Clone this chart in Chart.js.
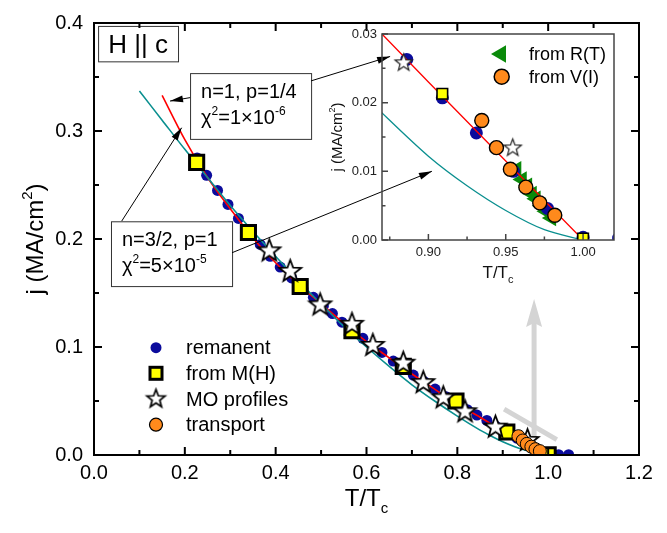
<!DOCTYPE html>
<html>
<head>
<meta charset="utf-8">
<script src="https://cdn.jsdelivr.net/npm/chart.js@4.4.0/dist/chart.umd.min.js"></script>
<style>
    html, body { margin: 0; padding: 0; background: #fff; }
    #wrap { position: relative; width: 667px; height: 533px; }
    #mainChart { position: absolute; left: 0; top: 0; }
    #insetChart { position: absolute; left: 320px; top: 20px; }
</style>
</head>
<body>
<div id="wrap">
    <canvas id="mainChart" width="667" height="533" style="width:667px;height:533px"></canvas>
    <canvas id="insetChart" width="310" height="275" style="width:310px;height:275px"></canvas>
</div>
<script>
// ===== DATA =====
const remanentT = [0.227, 0.248, 0.272, 0.295, 0.318, 0.342, 0.366, 0.388, 0.410, 0.435, 0.460, 0.483, 0.505, 0.525, 0.546, 0.570, 0.592, 0.613, 0.634, 0.659, 0.681, 0.703, 0.727, 0.751, 0.775, 0.800, 0.822, 0.843, 0.865, 0.886, 0.909, 0.931, 0.955, 0.977, 1.000, 1.023, 1.045];
const remanentJ = [0.275, 0.259, 0.245, 0.232, 0.219, 0.206, 0.195, 0.184, 0.174, 0.164, 0.154, 0.146, 0.138, 0.131, 0.123, 0.115, 0.108, 0.101, 0.095, 0.087, 0.080, 0.074, 0.068, 0.061, 0.054, 0.047, 0.042, 0.037, 0.032, 0.0263, 0.0207, 0.0156, 0.0100, 0.0046, 0.0004, 0.0003, 0.0003];

const fromMHT = [0.226, 0.340, 0.454, 0.568, 0.681, 0.797, 0.909, 1.000];
const fromMHJ = [0.271, 0.206, 0.156, 0.115, 0.082, 0.050, 0.0213, 0.0002];

const moT = [0.386, 0.432, 0.498, 0.568, 0.614, 0.681, 0.725, 0.769, 0.817, 0.884, 0.9545];
const moJ = [0.189, 0.170, 0.139, 0.121, 0.1015, 0.085, 0.067, 0.053, 0.040, 0.0258, 0.0134];

// transport = from V(I)
const transportT = [0.9345, 0.944, 0.953, 0.963, 0.972, 0.9817];
const transportJ = [0.0174, 0.01345, 0.0103, 0.0077, 0.0054, 0.0036];

const fromRTT = [0.957, 0.9605, 0.964, 0.967, 0.9695, 0.973, 0.976, 0.9795];
const fromRTJ = [0.0103, 0.0088, 0.0079, 0.0067, 0.0060, 0.0050, 0.0042, 0.0032];

// fit n=1, p=1/4 (red)
const fit1T = [0.15, 0.20, 0.25, 0.30, 0.35, 0.40, 0.45, 0.50, 0.55, 0.60, 0.65, 0.70, 0.75, 0.80, 0.85, 0.87, 0.90, 0.95, 1.00];
const fit1J = [0.333, 0.292, 0.257, 0.228, 0.201, 0.178, 0.158, 0.140, 0.122, 0.105, 0.090, 0.075, 0.061, 0.047, 0.035, 0.030, 0.023, 0.0115, 0.0];

// fit n=3/2, p=1 (teal)
const fit2T = [0.10, 0.15, 0.20, 0.25, 0.30, 0.35, 0.40, 0.45, 0.50, 0.55, 0.60, 0.65, 0.70, 0.75, 0.80, 0.85, 0.87, 0.90, 0.925, 0.95, 0.975, 1.00];
const fit2J = [0.337, 0.310, 0.283, 0.257, 0.231, 0.207, 0.184, 0.161, 0.140, 0.119, 0.100, 0.082, 0.065, 0.050, 0.036, 0.023, 0.0185, 0.0122, 0.0079, 0.0043, 0.0015, 0.0];

const mainXTicks = [0.0, 0.2, 0.4, 0.6, 0.8, 1.0, 1.2];
const mainYTicks = [0.0, 0.1, 0.2, 0.3, 0.4];
const insetXTicks = [0.90, 0.95, 1.00];
const insetYTicks = [0.00, 0.01, 0.02, 0.03];

const legendLabels = ['remanent', 'from M(H)', 'MO profiles', 'transport'];
const insetLegendLabels = ['from R(T)', 'from V(I)'];

// ===== STYLE =====
const FONT = "'Liberation Sans', Arial, Helvetica, sans-serif";
const BLUE = '#0b0b9c';
const YELLOW = '#ffff00';
const ORANGE = '#ff8a1c';
const GREEN = '#0a8a0a';
const RED = '#ff0000';
const TEAL = '#0a8f8f';

const pts = (xs, ys) => xs.map((x, i) => ({ x: x, y: ys[i] }));
const midpoints = arr => arr.slice(0, -1).map((v, i) => (v + arr[i + 1]) / 2);

function makeStar(R, lw, stroke) {
    const s = Math.ceil(2 * R + 2 * lw + 2);
    const c = document.createElement('canvas');
    c.width = s; c.height = s;
    const g = c.getContext('2d');
    g.beginPath();
    for (let i = 0; i < 10; i++) {
        const r = i % 2 ? R * 0.42 : R;
        const a = -Math.PI / 2 + i * Math.PI / 5;
        g.lineTo(s / 2 + r * Math.cos(a), s / 2 + r * Math.sin(a));
    }
    g.closePath();
    g.fillStyle = '#fff';
    g.fill();
    g.lineWidth = lw;
    g.strokeStyle = stroke;
    g.lineJoin = 'miter';
    g.stroke();
    return c;
}

const starMain = makeStar(11.5, 1.8, '#000');
const starLegend = makeStar(9.5, 1.7, '#000');
const starInset = makeStar(9, 1.2, '#222');

// draw text with super/subscripts; parts = [[text, 'n'|'sup'|'sub'], ...]
function richText(ctx, parts, x, y, size, align) {
    const small = Math.round(size * 0.62);
    let w = 0;
    parts.forEach(p => {
        ctx.font = (p[1] === 'n' ? size : small) + 'px ' + FONT;
        w += ctx.measureText(p[0]).width;
    });
    let cx = align === 'center' ? x - w / 2 : x;
    ctx.textAlign = 'left';
    ctx.textBaseline = 'alphabetic';
    parts.forEach(p => {
        ctx.font = (p[1] === 'n' ? size : small) + 'px ' + FONT;
        const dy = p[1] === 'sup' ? -size * 0.45 : (p[1] === 'sub' ? size * 0.3 : 0);
        ctx.fillText(p[0], cx, y + dy);
        cx += ctx.measureText(p[0]).width;
    });
}

function arrow(ctx, x1, y1, x2, y2, head, half) {
    ctx.beginPath();
    ctx.moveTo(x1, y1);
    ctx.lineTo(x2, y2);
    ctx.stroke();
    const a = Math.atan2(y2 - y1, x2 - x1);
    const bx = x2 - head * Math.cos(a), by = y2 - head * Math.sin(a);
    ctx.beginPath();
    ctx.moveTo(x2, y2);
    ctx.lineTo(bx + half * Math.sin(a), by - half * Math.cos(a));
    ctx.lineTo(bx - half * Math.sin(a), by + half * Math.cos(a));
    ctx.closePath();
    ctx.fill();
}

// frame with inward ticks
function frameTicks(o) {
    return {
        id: 'frameTicks',
        afterDraw(chart) {
            const { ctx, chartArea: a } = chart;
            const x = chart.scales.x, y = chart.scales.y;
            ctx.save();
            ctx.strokeStyle = o.color;
            ctx.lineWidth = o.width;
            ctx.beginPath();
            const xt = (vals, len) => vals.forEach(v => {
                const px = x.getPixelForValue(v);
                ctx.moveTo(px, a.bottom); ctx.lineTo(px, a.bottom - len);
                if (o.mirror) { ctx.moveTo(px, a.top); ctx.lineTo(px, a.top + len); }
            });
            const yt = (vals, len) => vals.forEach(v => {
                const py = y.getPixelForValue(v);
                ctx.moveTo(a.left, py); ctx.lineTo(a.left + len, py);
                if (o.mirror) { ctx.moveTo(a.right, py); ctx.lineTo(a.right - len, py); }
            });
            xt(o.xMajor, o.major); xt(o.xMinor, o.minor);
            yt(o.yMajor, o.major); yt(o.yMinor, o.minor);
            ctx.stroke();
            ctx.strokeRect(a.left, a.top, a.right - a.left, a.bottom - a.top);
            ctx.restore();
        }
    };
}

// ===== MAIN CHART DECORATION =====
const mainNotes = {
    hBox: [0.009, 0.3973, 0.185, 0.3645],
    box1: [0.2115, 0.3536, 0.478, 0.2927],
    box2: [0.0374, 0.2164, 0.304, 0.1564],
    arrows: [
        [0.2115, 0.3309, 0.1674, 0.3277],
        [0.478, 0.3464, 0.652, 0.369],
        [0.061, 0.2166, 0.193, 0.303],
        [0.304, 0.1873, 0.744, 0.2627]
    ],
    greyUp: [0.969, 0.0167, 0.969, 0.1445],
    greyDiag: [0.903, 0.0424, 1.019, 0.0143]
};

const mainBack = {
    id: 'mainBack',
    beforeDatasetsDraw(chart) {
        const ctx = chart.ctx, x = chart.scales.x, y = chart.scales.y;
        const g = mainNotes.greyUp, d = mainNotes.greyDiag;
        ctx.save();
        ctx.strokeStyle = '#d4d4d4';
        ctx.fillStyle = '#d4d4d4';
        ctx.lineWidth = 5;
        ctx.lineCap = 'butt';
        ctx.beginPath();
        ctx.moveTo(x.getPixelForValue(d[0]), y.getPixelForValue(d[1]));
        ctx.lineTo(x.getPixelForValue(d[2]), y.getPixelForValue(d[3]));
        ctx.stroke();
        const x1 = x.getPixelForValue(g[0]), y1 = y.getPixelForValue(g[1]);
        const x2 = x.getPixelForValue(g[2]), y2 = y.getPixelForValue(g[3]);
        ctx.beginPath();
        ctx.moveTo(x1, y1);
        ctx.lineTo(x2, y2 + 20);
        ctx.stroke();
        ctx.beginPath();
        ctx.moveTo(x2, y2);
        ctx.lineTo(x2 - 8, y2 + 28);
        ctx.lineTo(x2, y2 + 24);
        ctx.lineTo(x2 + 8, y2 + 28);
        ctx.closePath();
        ctx.fill();
        ctx.restore();
    },
    afterDraw(chart) {
        const ctx = chart.ctx, x = chart.scales.x, y = chart.scales.y;
        const box = b => [x.getPixelForValue(b[0]), y.getPixelForValue(b[1]), x.getPixelForValue(b[2]), y.getPixelForValue(b[3])];
        ctx.save();
        ctx.strokeStyle = '#333';
        ctx.lineWidth = 1;
        ctx.fillStyle = '#000';

        let b = box(mainNotes.hBox);
        ctx.fillStyle = '#fff';
        ctx.fillRect(b[0], b[1], b[2] - b[0], b[3] - b[1]);
        ctx.strokeRect(b[0] + 0.5, b[1] + 0.5, b[2] - b[0], b[3] - b[1]);
        ctx.fillStyle = '#000';
        richText(ctx, [['H || c', 'n']], (b[0] + b[2]) / 2, b[1] + 27, 26, 'center');

        b = box(mainNotes.box1);
        ctx.fillStyle = '#fff';
        ctx.fillRect(b[0], b[1], b[2] - b[0], b[3] - b[1]);
        ctx.strokeRect(b[0] + 0.5, b[1] + 0.5, b[2] - b[0], b[3] - b[1]);
        ctx.fillStyle = '#000';
        richText(ctx, [['n=1, p=1/4', 'n']], b[0] + 11, b[1] + 25, 20, 'left');
        richText(ctx, [['\u03c7', 'n'], ['2', 'sup'], ['=1\u00d710', 'n'], ['-6', 'sup']], b[0] + 11, b[1] + 51, 20, 'left');

        b = box(mainNotes.box2);
        ctx.fillStyle = '#fff';
        ctx.fillRect(b[0], b[1], b[2] - b[0], b[3] - b[1]);
        ctx.strokeRect(b[0] + 0.5, b[1] + 0.5, b[2] - b[0], b[3] - b[1]);
        ctx.fillStyle = '#000';
        richText(ctx, [['n=3/2, p=1', 'n']], b[0] + 11, b[1] + 25, 20, 'left');
        richText(ctx, [['\u03c7', 'n'], ['2', 'sup'], ['=5\u00d710', 'n'], ['-5', 'sup']], b[0] + 11, b[1] + 51, 20, 'left');

        ctx.strokeStyle = '#000';
        mainNotes.arrows.forEach(a => {
            arrow(ctx, x.getPixelForValue(a[0]), y.getPixelForValue(a[1]),
                x.getPixelForValue(a[2]), y.getPixelForValue(a[3]), 13, 3.5);
        });

        // legend
        const lx = 156, ly = [347.7, 373.3, 399, 424.7];
        ctx.fillStyle = BLUE;
        ctx.beginPath(); ctx.arc(lx, ly[0], 5.5, 0, Math.PI * 2); ctx.fill();
        ctx.fillStyle = YELLOW; ctx.strokeStyle = '#000'; ctx.lineWidth = 3;
        ctx.fillRect(lx - 6, ly[1] - 6, 12, 12); ctx.strokeRect(lx - 6, ly[1] - 6, 12, 12);
        ctx.drawImage(starLegend, lx - starLegend.width / 2, ly[2] - starLegend.height / 2);
        ctx.fillStyle = ORANGE; ctx.lineWidth = 1.2;
        ctx.beginPath(); ctx.arc(lx, ly[3], 6.5, 0, Math.PI * 2); ctx.fill(); ctx.stroke();
        ctx.fillStyle = '#000';
        ctx.font = '20px ' + FONT;
        ctx.textAlign = 'left';
        ctx.textBaseline = 'middle';
        legendLabels.forEach((t, i) => ctx.fillText(t, 186, ly[i] + 1));

        // axis titles
        ctx.save();
        ctx.translate(35, (chart.chartArea.top + chart.chartArea.bottom) / 2);
        ctx.rotate(-Math.PI / 2);
        richText(ctx, [['j (MA/cm', 'n'], ['2', 'sup'], [')', 'n']], 0, 8, 24, 'center');
        ctx.restore();
        richText(ctx, [['T/T', 'n'], ['c', 'sub']], (chart.chartArea.left + chart.chartArea.right) / 2, 506, 24, 'center');
        ctx.restore();
    }
};

const mainChart = new Chart(document.getElementById('mainChart'), {
    type: 'scatter',
    data: {
        datasets: [
            {
                label: 'transport', data: pts(transportT, transportJ), order: 0,
                pointRadius: 6.5, pointBackgroundColor: ORANGE, pointBorderColor: '#000', pointBorderWidth: 1
            },
            {
                label: 'MO profiles', data: pts(moT, moJ), order: 1,
                pointStyle: starMain
            },
            {
                label: 'from M(H)', data: pts(fromMHT, fromMHJ), order: 2,
                pointStyle: 'rect', pointRadius: 10, pointBackgroundColor: YELLOW, pointBorderColor: '#000', pointBorderWidth: 3
            },
            {
                label: 'fit n=3/2', data: pts(fit2T, fit2J), order: 3, showLine: true,
                pointRadius: 0, borderColor: TEAL, borderWidth: 1.6, tension: 0.3
            },
            {
                label: 'fit n=1', data: pts(fit1T, fit1J), order: 4, showLine: true,
                pointRadius: 0, borderColor: RED, borderWidth: 1.6, tension: 0.3
            },
            {
                label: 'remanent', data: pts(remanentT, remanentJ), order: 5,
                pointRadius: 5.5, pointBackgroundColor: BLUE, pointBorderWidth: 0
            }
        ]
    },
    options: {
        responsive: false,
        animation: false,
        events: [],
        layout: { padding: { top: 15, right: 28, left: 0, bottom: 0 } },
        plugins: { legend: { display: false }, tooltip: { enabled: false } },
        scales: {
            x: {
                type: 'linear', min: 0, max: 1.2,
                grid: { display: false, drawTicks: false }, border: { display: false },
                afterBuildTicks: s => { s.ticks = mainXTicks.map(v => ({ value: v })); },
                afterFit: s => { s.height = 78; },
                ticks: {
                    color: '#000', padding: 6, maxRotation: 0,
                    font: { family: FONT, size: 20 },
                    callback: v => v.toFixed(1)
                }
            },
            y: {
                type: 'linear', min: 0, max: 0.4,
                grid: { display: false, drawTicks: false }, border: { display: false },
                afterBuildTicks: s => { s.ticks = mainYTicks.map(v => ({ value: v })); },
                afterFit: s => { s.width = 94; },
                ticks: {
                    color: '#000', padding: 11,
                    font: { family: FONT, size: 20 },
                    callback: v => v.toFixed(1)
                }
            }
        }
    },
    plugins: [mainBack, frameTicks({
        color: '#000', width: 2, major: 8, minor: 5, mirror: true,
        xMajor: mainXTicks, xMinor: midpoints(mainXTicks),
        yMajor: mainYTicks, yMinor: midpoints(mainYTicks)
    })]
});

// ===== INSET CHART =====
const insetDecor = {
    id: 'insetDecor',
    afterDraw(chart) {
        const ctx = chart.ctx, a = chart.chartArea;
        ctx.save();
        // legend
        const lx = 181, ly = [34, 56.7];
        ctx.fillStyle = GREEN;
        ctx.beginPath();
        ctx.moveTo(lx - 10, ly[0]);
        ctx.lineTo(lx + 5, ly[0] - 8.7);
        ctx.lineTo(lx + 5, ly[0] + 8.7);
        ctx.closePath();
        ctx.fill();
        ctx.fillStyle = ORANGE; ctx.strokeStyle = '#000'; ctx.lineWidth = 1.5;
        ctx.beginPath(); ctx.arc(lx + 0.7, ly[1], 7.5, 0, Math.PI * 2); ctx.fill(); ctx.stroke();
        ctx.fillStyle = '#000';
        ctx.font = '18px ' + FONT;
        ctx.textAlign = 'left';
        ctx.textBaseline = 'middle';
        insetLegendLabels.forEach((t, i) => ctx.fillText(t, 209, ly[i] + 1));

        // axis titles
        ctx.fillStyle = '#111';
        ctx.save();
        ctx.translate(17, (a.top + a.bottom) / 2);
        ctx.rotate(-Math.PI / 2);
        richText(ctx, [['j (MA/cm', 'n'], ['2', 'sup'], [')', 'n']], 0, 5, 15, 'center');
        ctx.restore();
        richText(ctx, [['T/T', 'n'], ['c', 'sub']], (a.left + a.right) / 2, 258, 17, 'center');
        ctx.restore();
    }
};

const insetChart = new Chart(document.getElementById('insetChart'), {
    type: 'scatter',
    data: {
        datasets: [
            {
                label: 'from V(I)', data: pts(transportT, transportJ), order: 0,
                pointRadius: 7, pointBackgroundColor: ORANGE, pointBorderColor: '#000', pointBorderWidth: 1.4
            },
            {
                label: 'from M(H)', data: pts(fromMHT, fromMHJ), order: 1,
                pointStyle: 'rect', pointRadius: 7.5, pointBackgroundColor: YELLOW, pointBorderColor: '#000', pointBorderWidth: 1.6
            },
            {
                label: 'MO profiles', data: pts(moT, moJ), order: 2,
                pointStyle: starInset
            },
            {
                label: 'fit n=1', data: pts(fit1T, fit1J), order: 3, showLine: true,
                pointRadius: 0, borderColor: RED, borderWidth: 1.3
            },
            {
                label: 'remanent', data: pts(remanentT, remanentJ), order: 4,
                pointRadius: 6.5, pointBackgroundColor: BLUE, pointBorderWidth: 0
            },
            {
                label: 'from R(T)', data: pts(fromRTT, fromRTJ), order: 5,
                pointStyle: 'triangle', rotation: -90, pointRadius: 9.5, pointBackgroundColor: GREEN, pointBorderWidth: 0
            },
            {
                label: 'fit n=3/2', data: pts(fit2T, fit2J), order: 6, showLine: true,
                pointRadius: 0, borderColor: TEAL, borderWidth: 1.3, tension: 0.3
            }
        ]
    },
    options: {
        responsive: false,
        animation: false,
        events: [],
        layout: { padding: { top: 14, right: 16, left: 0, bottom: 0 } },
        plugins: { legend: { display: false }, tooltip: { enabled: false } },
        scales: {
            x: {
                type: 'linear', min: 0.87, max: 1.02,
                grid: { display: false, drawTicks: false }, border: { display: false },
                afterBuildTicks: s => { s.ticks = insetXTicks.map(v => ({ value: v })); },
                afterFit: s => { s.height = 55; },
                ticks: {
                    color: '#222', padding: 5, maxRotation: 0,
                    font: { family: FONT, size: 13 },
                    callback: v => v.toFixed(2)
                }
            },
            y: {
                type: 'linear', min: 0, max: 0.03,
                grid: { display: false, drawTicks: false }, border: { display: false },
                afterBuildTicks: s => { s.ticks = insetYTicks.map(v => ({ value: v })); },
                afterFit: s => { s.width = 62; },
                ticks: {
                    color: '#222', padding: 5,
                    font: { family: FONT, size: 13 },
                    callback: v => v.toFixed(2)
                }
            }
        }
    },
    plugins: [insetDecor, frameTicks({
        color: '#444', width: 1.5, major: 6, minor: 3.5, mirror: false,
        xMajor: insetXTicks, xMinor: [0.875, 0.925, 0.975],
        yMajor: insetYTicks, yMinor: midpoints(insetYTicks)
    })]
});
</script>
</body>
</html>
